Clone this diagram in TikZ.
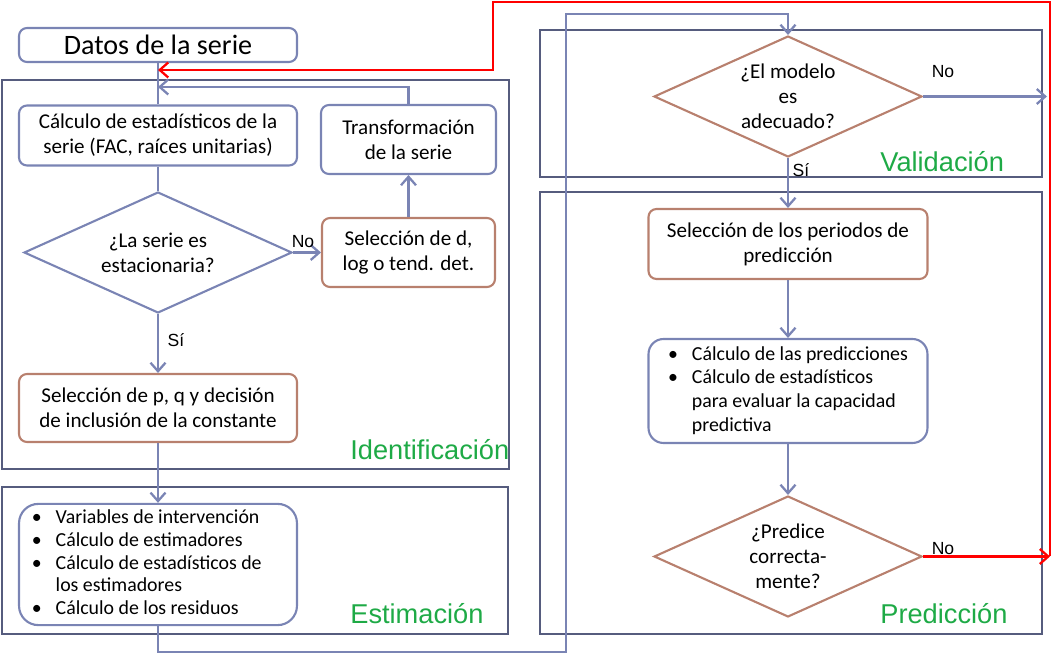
\documentclass[tikz,border=0pt]{standalone}
\usepackage{fontspec}
\setmainfont{Carlito}
\newfontfamily\arialfont{Liberation Sans}
\usetikzlibrary{shapes.geometric,arrows.meta}

\definecolor{lineblue}{RGB}{122,132,180}
\definecolor{framegray}{RGB}{86,92,126}
\definecolor{boxbrown}{RGB}{184,128,110}
\definecolor{labelgreen}{RGB}{30,170,70}
\definecolor{flowred}{RGB}{255,0,0}

\tikzset{
  bluebox/.style={draw=lineblue,line width=1.2pt,rounded corners=4.5pt,align=center,inner sep=2pt,font=\fontsize{12}{14.2}\selectfont},
  brownbox/.style={bluebox,draw=boxbrown},
  question/.style={diamond,aspect=2.2,draw=lineblue,line width=1.2pt,align=center,inner sep=0pt,minimum width=5.36cm,minimum height=2.42cm,font=\fontsize{12}{14.2}\selectfont},
  phase/.style={draw=framegray,line width=1.7pt},
  phaselabel/.style={text=labelgreen,inner sep=0pt,anchor=base west,font=\arialfont\fontsize{15.5}{18}\selectfont},
  answer/.style={inner sep=0pt,font=\arialfont\fontsize{10}{12}\selectfont},
  link/.style={draw=lineblue,line width=1.3pt},
  flow/.style={link,-{Straight Barb[length=1.7mm,width=3mm]}},
  redflow/.style={flow,draw=flowred}
}

\begin{document}
\begin{tikzpicture}[x=0.02cm,y=-0.02cm]
\useasboundingbox (0,0) rectangle (1063,655);
%
\draw[phase] (2,80) rectangle (509,469);    %Identificacion
\draw[phase] (2,487) rectangle (508,634);   %Estimacion
\draw[phase] (540,30) rectangle (1042,177); %Validacion
\draw[phase] (540,192) rectangle (1042,634);%Prediccion
%
\node[bluebox,minimum width=5.56cm,minimum height=0.68cm,font=\fontsize{16}{18}\selectfont] (datos) at (158,45) {Datos de la serie};
\node[bluebox,minimum width=5.56cm,minimum height=1.2cm] (calc) at (158,135.5) {Cálculo de estadísticos de la\\serie (FAC, raíces unitarias)};
\node[bluebox,minimum width=3.5cm,minimum height=1.38cm] (trans) at (408.5,139.5) {Transformación\\de la serie};
\node[question] (stat) at (158,252.5) {¿La serie es\\estacionaria?};
\node[brownbox,minimum width=3.46cm,minimum height=1.38cm] (seld) at (408.5,252.5) {Selección de d,\\log o tend. det.};
\node[brownbox,minimum width=5.56cm,minimum height=1.36cm] (selpq) at (158,408) {Selección de p, q y decisión\\de inclusión de la constante};
\node[bluebox,rounded corners=11pt,minimum width=5.56cm,minimum height=2.42cm,font=\fontsize{11.3}{13}\selectfont] (est) at (158,564.5) {%
\begin{tabular}{@{}l@{\hspace{0.28cm}}l@{\hspace{0.45cm}}}
\textbullet & Variables de intervención\\
\textbullet & Cálculo de estimadores\\
\textbullet & Cálculo de estadísticos de\\
            & los estimadores\\
\textbullet & Cálculo de los residuos
\end{tabular}};
%
\node[question,draw=boxbrown] (model) at (788,96.5) {¿El modelo\\es\\adecuado?};
\node[brownbox,minimum width=5.58cm,minimum height=1.4cm] (selper) at (788,244) {Selección de los periodos de\\predicción};
\node[bluebox,rounded corners=8.5pt,minimum width=5.58cm,minimum height=2.08cm,font=\fontsize{11.3}{13.4}\selectfont] (calcpred) at (788,391) {%
\begin{tabular}{@{}l@{\hspace{0.28cm}}l@{}}
\textbullet & Cálculo de las predicciones\\
\textbullet & Cálculo de estadísticos\\
            & para evaluar la capacidad\\
            & predictiva
\end{tabular}};
\node[question,draw=boxbrown] (pred) at (788,556.5) {¿Predice\\correcta-\\mente?};
%
\node[phaselabel] (identlabel) at (350,460) {Identificación};
\node[phaselabel] (estlabel) at (350,623) {Estimación};
\node[phaselabel] (vallabel) at (880,172) {Validación};
\node[phaselabel] (predlabel) at (880,623) {Predicción};
%
\coordinate (back) at (158,87);
\coordinate (redin) at (158,70);
\coordinate (modelno) at (1047,96.5);
\coordinate (predno) at (1050,556.5);
%
\draw[link] (datos) -- (calc);
\draw[link] (calc) -- (stat);
\draw[flow] (stat) -- (seld);
\draw[flow] (seld) -- (trans);
\draw[flow] (trans) |- (back);
\draw[flow] (stat) -- (selpq);
\draw[flow] (selpq) -- (est);
\draw[flow] (est) |- (566,652) |- (788,14) -- (model);
\draw[flow] (model) -- (modelno);
\draw[flow] (model) -- (selper);
\draw[flow] (selper) -- (calcpred);
\draw[flow] (calcpred) -- (pred);
\draw[redflow] (pred) -- (predno);
\draw[redflow] (predno) -- (1050,2) -| (493,70) -- (redin);
%
\node[answer] (no1) at (303,242) {No};
\node[answer] (si1) at (176,340) {Sí};
\node[answer] (no2) at (943,72) {No};
\node[answer] (si2) at (801,170) {Sí};
\node[answer] (no3) at (943,549) {No};
\end{tikzpicture}
\end{document}
